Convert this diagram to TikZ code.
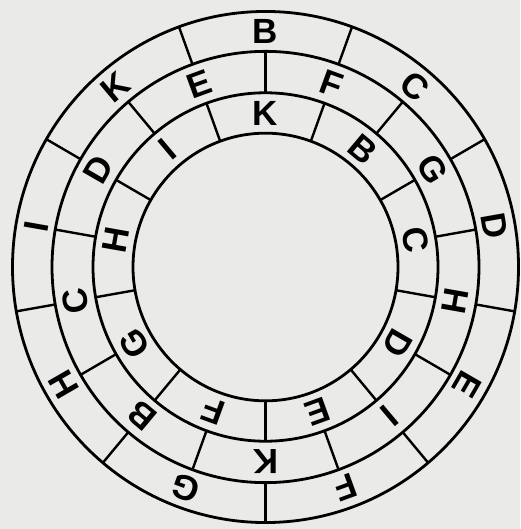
\documentclass[tikz,border=0pt]{standalone}
\usepackage{fontspec}
\setmainfont{Liberation Sans}
\definecolor{paper}{RGB}{234,234,232}
\begin{document}
\begin{tikzpicture}[x=1pt,y=1.01pt,
  ring/.style={line width=2.8pt},
  divider/.style={line width=2.4pt},
  letter/.style={font=\fontsize{35}{35}\selectfont\bfseries, inner sep=0pt,
    text height=25pt, text depth=0pt, anchor=center}]
\fill[paper] (0,0) rectangle (520,523.76);
\useasboundingbox (0,0) rectangle (520,523.76);
\begin{scope}[shift={(265.5,259.4)}]
  % circles
  \foreach \r in {253,213.5,172.5,132.5}
    \draw[ring] (0,0) circle[radius=\r];
  % dividers
  \foreach \a in {70,30,-10,-50,-90,-130,-170,150,110} {
    \draw[divider] (\a:213.5) -- (\a:253);
    \draw[divider] (\a:132.5) -- (\a:172.5);
  }
  \foreach \a in {90,50,10,-30,-70,-110,-150,170,130}
    \draw[divider] (\a:172.5) -- (\a:213.5);
  % letters
  \foreach \a/\l in {90/B,50/C,10/D,-30/E,-70/F,-110/G,-150/H,170/I,130/K}
    \node[letter, rotate=\a-90] (o\l) at (\a:233.25) {\l};
  \foreach \a/\l in {110/E,70/F,30/G,-10/H,-50/I,-90/K,-130/B,-170/C,150/D}
    \node[letter, rotate=\a-90] (m\l) at (\a:193) {\l};
  \foreach \a/\l in {90/K,50/B,10/C,-30/D,-70/E,-110/F,-150/G,170/H,130/I}
    \node[letter, rotate=\a-90] (i\l) at (\a:152.5) {\l};
\end{scope}
\end{tikzpicture}
\end{document}
